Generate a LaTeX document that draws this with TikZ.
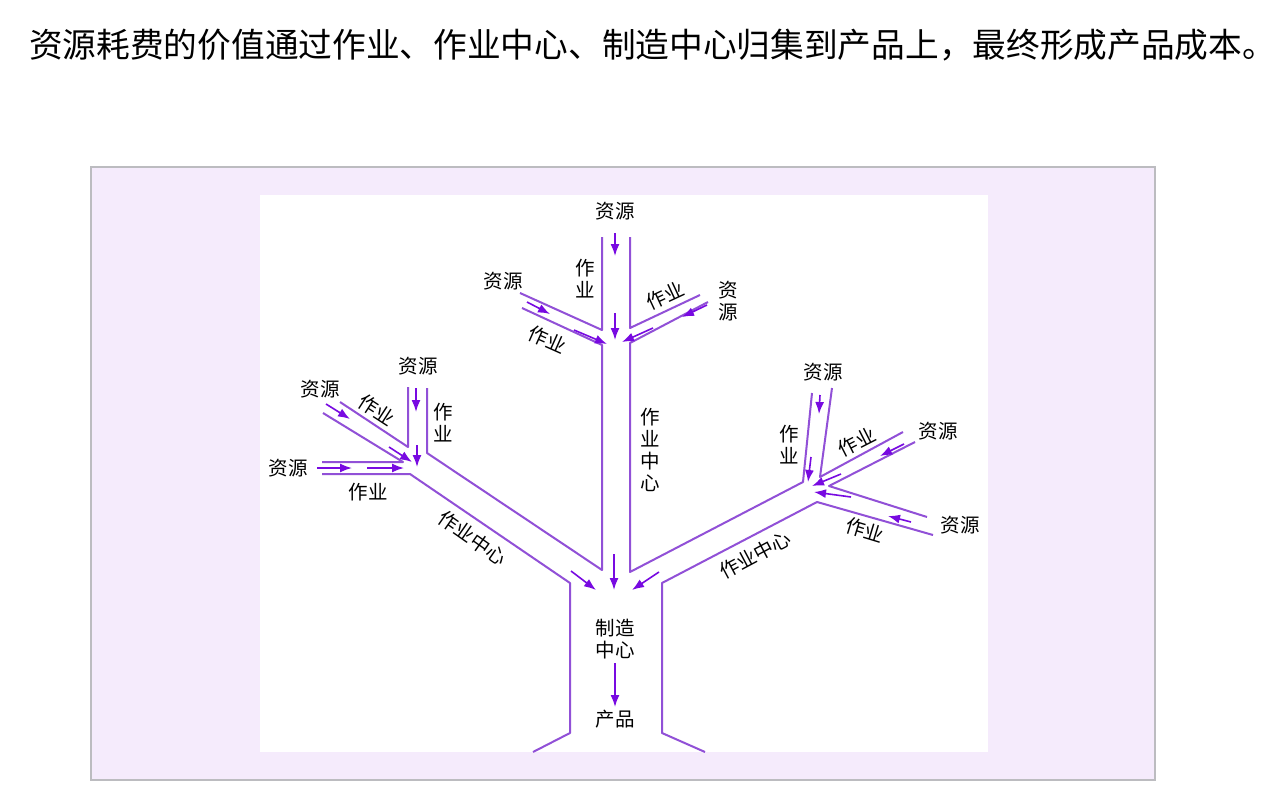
\documentclass[tikz,border=0pt]{standalone}
\usepackage{fontspec}
\setmainfont{Noto Sans CJK SC}
\usetikzlibrary{arrows.meta}
\definecolor{violettube}{RGB}{145,80,215}
\definecolor{violetfleche}{RGB}{120,10,225}
\definecolor{fondlilas}{RGB}{245,235,252}
\definecolor{grisbord}{RGB}{188,188,192}
\tikzstyle{tube}=[line width=2pt,violettube,line join=round]
\tikzstyle{fleche}=[line width=1.6pt,violetfleche,-{Latex[length=12pt,width=9pt]}]
\tikzstyle{etiq}=[font=\fontsize{19.5}{22}\selectfont,inner sep=0pt,align=center]

\begin{document}
\begin{tikzpicture}[x=1pt,y=-1pt]
\useasboundingbox (0,0) rectangle (1288,797);

\node[anchor=west,inner sep=0pt,font=\fontsize{33.7}{40}\selectfont] (titre) at (29,45) {资源耗费的价值通过作业、作业中心、制造中心归集到产品上，最终形成产品成本。};

\fill[fondlilas] (91,167) rectangle (1155,780);
\draw[grisbord,line width=2.5pt] (91,167) rectangle (1155,780);
\fill[white] (260,195) rectangle (988,752);

% tubes
\draw[tube] (520,293) -- (602,330) -- (602,237);
\draw[tube] (700,295) -- (630,328) -- (630,237);
\draw[tube] (522,308) -- (602,345) -- (602,570) -- (427,453) -- (427,388);
\draw[tube] (708,302) -- (630,343) -- (630,572) -- (803,482) -- (812,393);

\draw[tube] (340,402) -- (408,447) -- (408,387);
\draw[tube] (323,413) -- (403,462) -- (322,462);
\draw[tube] (322,474) -- (410,474) -- (570,583) -- (570,733) -- (533,752);

\draw[tube] (903,432) -- (820,477) -- (832,388);
\draw[tube] (915,442) -- (829,486) -- (927,517);
\draw[tube] (933,535) -- (817,502) -- (662,583) -- (662,733) -- (705,752);

% fleches
\draw[fleche] (615,233) -- (615,256);
\draw[fleche] (615,313) -- (615,340);
\draw[fleche] (527,302) -- (550,314);
\draw[fleche] (574,330) -- (607,344);
\draw[fleche] (707,305) -- (682,317);
\draw[fleche] (653,328) -- (622,342);

\draw[fleche] (614,554) -- (614,590);
\draw[fleche] (571,571) -- (596,590);
\draw[fleche] (659,572) -- (632,590);
\draw[fleche] (615,663) -- (615,707);

\draw[fleche] (416,388) -- (416,412);
\draw[fleche] (417,445) -- (417,467);
\draw[fleche] (326,404) -- (350,419);
\draw[fleche] (389,447) -- (412,462);
\draw[fleche] (317,468) -- (352,468);
\draw[fleche] (367,468) -- (404,468);

\draw[fleche] (820,395) -- (819,414);
\draw[fleche] (811,457) -- (808,482);
\draw[fleche] (904,444) -- (880,456);
\draw[fleche] (841,474) -- (812,486);
\draw[fleche] (911,522) -- (888,516);
\draw[fleche] (851,497) -- (814,492);

% etiquettes
\node[etiq] (rhaut) at (615,211) {资源};
\node[etiq] (ahaut) at (585,279) {作\\业};
\node[etiq] (rhg) at (503,281) {资源};
\node[etiq,rotate=-24] (ahg) at (547,340) {作业};
\node[etiq] (rhd) at (728,301) {资\\源};
\node[etiq,rotate=25] (ahd) at (665,296) {作业};
\node[etiq] (cc) at (650,450) {作\\业\\中\\心};

\node[etiq] (rg1) at (418,366) {资源};
\node[etiq] (ag1) at (443,423) {作\\业};
\node[etiq] (rg2) at (320,389) {资源};
\node[etiq,rotate=-33] (ag2) at (377,410) {作业};
\node[etiq] (rg3) at (288,468) {资源};
\node[etiq] (ag3) at (368,492) {作业};
\node[etiq,rotate=-35] (cg) at (473,538) {作业中心};

\node[etiq] (rd1) at (823,372) {资源};
\node[etiq] (ad1) at (789,445) {作\\业};
\node[etiq] (rd2) at (938,431) {资源};
\node[etiq,rotate=27] (ad2) at (857,442) {作业};
\node[etiq] (rd3) at (960,525) {资源};
\node[etiq,rotate=-17] (ad3) at (865,530) {作业};
\node[etiq,rotate=28] (cd) at (755,555) {作业中心};

\node[etiq] (fab) at (615,639) {制造\\中心};
\node[etiq] (prod) at (615,719) {产品};

\end{tikzpicture}
\end{document}
